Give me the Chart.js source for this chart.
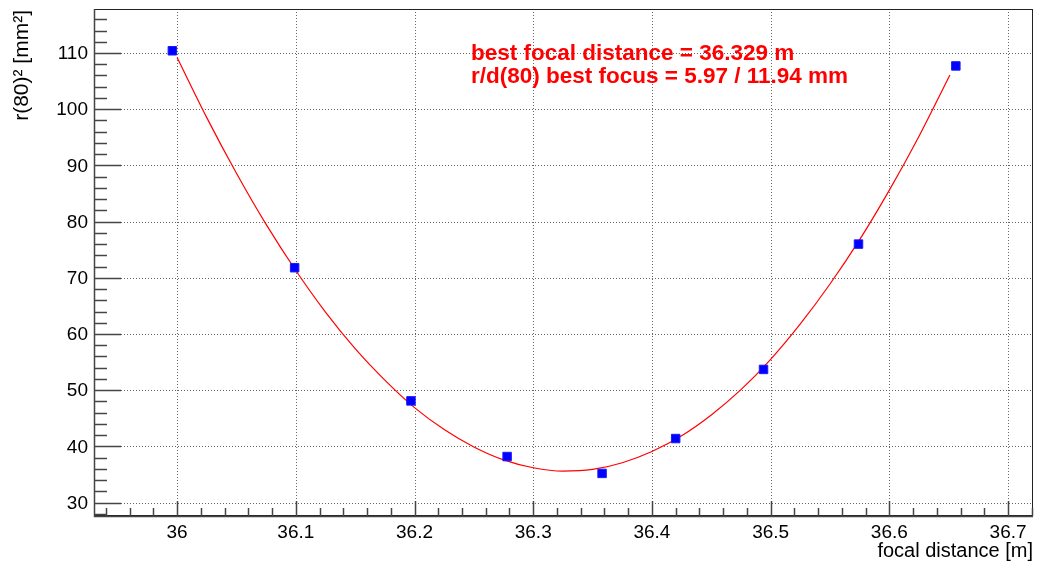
<!DOCTYPE html>
<html>
<head>
<meta charset="utf-8">
<script src="https://cdn.jsdelivr.net/npm/chart.js@4/dist/chart.umd.min.js"></script>
<style>
  body { margin: 0; background: #fff; }
  #wrap { width: 1049px; height: 572px; }
</style>
</head>
<body>
<div id="wrap"><canvas id="myChart"></canvas></div>
<script>
// measured points
const focalDist = [35.996, 36.099, 36.197, 36.278, 36.358, 36.420, 36.494, 36.574, 36.656];
const r80sq = [110.4, 71.8, 48.1, 38.2, 35.2, 41.4, 53.7, 76.0, 107.7];

// fit curve
const fitX = [36.000, 36.025, 36.050, 36.075, 36.100, 36.125, 36.150, 36.175, 36.200,
  36.225, 36.250, 36.275, 36.300, 36.325, 36.350, 36.375, 36.400, 36.425, 36.450,
  36.475, 36.500, 36.525, 36.550, 36.575, 36.600, 36.625, 36.651];
const fitY = [109.2, 98.5, 88.6, 79.5, 71.3, 63.9, 57.4, 51.8, 46.9,
  43.0, 39.9, 37.6, 36.2, 35.6, 35.9, 37.1, 39.1, 41.9, 45.6,
  50.1, 55.5, 61.8, 68.9, 76.8, 85.6, 95.2, 106.1];

// axis ticks
const xTicks = [36, 36.1, 36.2, 36.3, 36.4, 36.5, 36.6, 36.7];
const xTickLabels = ["36", "36.1", "36.2", "36.3", "36.4", "36.5", "36.6", "36.7"];
const yTicks = [30, 40, 50, 60, 70, 80, 90, 100, 110];
const yTickLabels = ["30", "40", "50", "60", "70", "80", "90", "100", "110"];

const infoText = ["best focal distance = 36.329 m", "r/d(80) best focus = 5.97 / 11.94 mm"];

const FONT = "'Liberation Sans', Arial, Helvetica, sans-serif";

// draws grid, frame, ticks, labels and the red text like a ROOT canvas
const rootStyle = {
  id: "rootStyle",
  beforeDatasetsDraw(chart) {
    const ctx = chart.ctx;
    const a = chart.chartArea;
    const xs = chart.scales.x;
    const ys = chart.scales.y;
    ctx.save();
    ctx.strokeStyle = "#666";
    ctx.lineWidth = 1;
    ctx.setLineDash([1, 2]);
    xTicks.forEach(v => {
      const px = Math.round(xs.getPixelForValue(v)) + 0.5;
      ctx.beginPath(); ctx.moveTo(px, a.top); ctx.lineTo(px, a.bottom); ctx.stroke();
    });
    yTicks.forEach(v => {
      const py = Math.round(ys.getPixelForValue(v)) + 0.5;
      ctx.beginPath(); ctx.moveTo(a.left, py); ctx.lineTo(a.right, py); ctx.stroke();
    });
    ctx.restore();
  },
  afterDatasetsDraw(chart) {
    const ctx = chart.ctx;
    const a = chart.chartArea;
    const xs = chart.scales.x;
    const ys = chart.scales.y;
    ctx.save();

    // frame
    ctx.strokeStyle = "#222";
    ctx.lineWidth = 1;
    ctx.strokeRect(a.left + 0.5, a.top + 0.5, a.right - a.left - 1, a.bottom - a.top - 1);
    ctx.strokeStyle = "#444";
    ctx.lineWidth = 1.5;
    ctx.beginPath();
    ctx.moveTo(a.left + 0.5, a.top); ctx.lineTo(a.left + 0.5, a.bottom + 0.5); ctx.lineTo(a.right, a.bottom + 0.5);
    ctx.stroke();

    // y ticks (major every 10, minor every 2)
    ctx.lineWidth = 1.5;
    for (let v = 28; v <= 117; v += 2) {
      const py = Math.round(ys.getPixelForValue(v)) + 0.5;
      const len = (v % 10 === 0) ? 27 : 13;
      ctx.beginPath(); ctx.moveTo(a.left, py); ctx.lineTo(a.left + len, py); ctx.stroke();
    }
    // x ticks (major every 0.1, minor every 0.02)
    for (let i = -3; i <= 36; i++) {
      const v = 36 + i * 0.02;
      if (v > xs.max) break;
      const px = Math.round(xs.getPixelForValue(v)) + 0.5;
      const len = (i % 5 === 0) ? 15 : 8;
      ctx.beginPath(); ctx.moveTo(px, a.bottom); ctx.lineTo(px, a.bottom - len); ctx.stroke();
    }

    // tick labels
    ctx.fillStyle = "#000";
    ctx.font = "19px " + FONT;
    ctx.textAlign = "right";
    ctx.textBaseline = "middle";
    yTicks.forEach((v, i) => {
      ctx.fillText(yTickLabels[i], a.left - 6, ys.getPixelForValue(v) + 1);
    });
    ctx.textAlign = "center";
    ctx.textBaseline = "top";
    xTicks.forEach((v, i) => {
      ctx.fillText(xTickLabels[i], xs.getPixelForValue(v), a.bottom + 7);
    });

    // axis titles
    ctx.font = "20px " + FONT;
    ctx.textAlign = "right";
    ctx.textBaseline = "alphabetic";
    ctx.fillText("focal distance [m]", a.right, 557);
    ctx.save();
    ctx.translate(28, a.top + 1);
    ctx.rotate(-Math.PI / 2);
    ctx.textAlign = "right";
    ctx.font = "21px " + FONT;
    ctx.fillText("r(80)\u00b2 [mm\u00b2]", 0, 0);
    ctx.restore();

    // fit result text
    ctx.fillStyle = "#ff0000";
    ctx.font = "bold 22.5px " + FONT;
    ctx.textAlign = "left";
    ctx.fillText(infoText[0], 471, 60);
    ctx.fillText(infoText[1], 471, 83);
    ctx.restore();
  }
};

const ctx = document.getElementById("myChart");
const myChart = new Chart(ctx, {
  type: "scatter",
  data: {
    datasets: [
      {
        label: "data",
        data: focalDist.map((x, i) => ({ x: x, y: r80sq[i] })),
        backgroundColor: "#0000ff",
        borderColor: "#1a1aff",
        borderWidth: 1,
        pointStyle: "rect",
        pointRadius: 6,
        pointHoverRadius: 6,
      },
      {
        label: "fit",
        data: fitX.map((x, i) => ({ x: x, y: fitY[i] })),
        showLine: true,
        borderColor: "#ff0000",
        borderWidth: 1.2,
        pointRadius: 0,
        cubicInterpolationMode: "monotone",
      },
    ],
  },
  options: {
    responsive: true,
    maintainAspectRatio: false,
    animation: false,
    layout: { padding: { left: 94, top: 9, right: 16, bottom: 56 } },
    plugins: { legend: { display: false }, tooltip: { enabled: false } },
    scales: {
      x: { type: "linear", min: 35.930, max: 36.721, display: false },
      y: { type: "linear", min: 27.62, max: 117.83, display: false },
    },
  },
  plugins: [rootStyle],
});
</script>
</body>
</html>
